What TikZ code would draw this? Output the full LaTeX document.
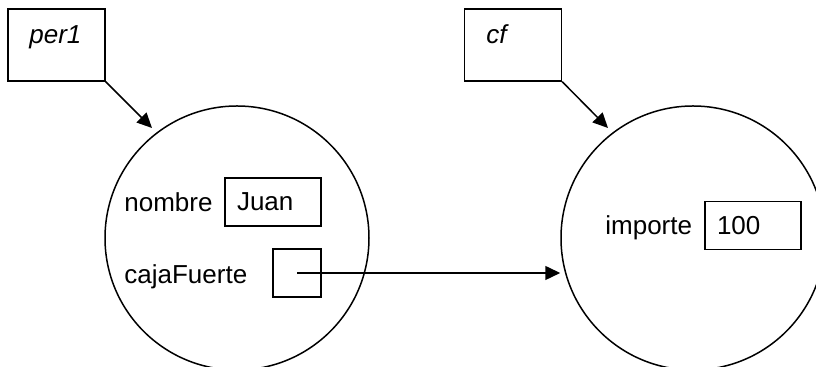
\documentclass[tikz,border=0pt]{standalone}
\usepackage{fontspec}
\setmainfont{Liberation Sans}
\usetikzlibrary{arrows.meta}
\begin{document}
\begin{tikzpicture}[x=0.5pt,y=-0.5pt,
  every node/.style={font=\fontsize{13}{15}\selectfont, inner sep=0pt},
  refbox/.style={draw, line width=0.75pt, minimum width=48.5pt, minimum height=36pt},
  objcircle/.style={draw, circle, line width=0.75pt, minimum size=132pt},
  valbox/.style={draw, line width=0.75pt, minimum width=48pt, minimum height=24pt, text width=36pt, inner xsep=6pt},
  ptrbox/.style={draw, line width=0.75pt, minimum width=24pt, minimum height=24pt},
  lbl/.style={anchor=base west},
  ptr/.style={line width=0.75pt, -{Triangle[length=7.5pt,width=7pt]}}]
\useasboundingbox (0,0) rectangle (816,367);
% reference boxes
\node[refbox] (per1) at (56.5,45) {};
\node[font=\fontsize{13}{15}\selectfont\itshape, anchor=base west] (per1t) at (29,44) {per1};
\node[refbox] (cf) at (513,45) {};
\node[font=\fontsize{13}{15}\selectfont\itshape, anchor=base west] (cft) at (486,44) {cf};
% objects
\node[objcircle] (obj1) at (237,238) {};
\node[objcircle] (obj2) at (693,238) {};
% fields of obj1
\node[lbl] (nombre) at (124,212) {nombre};
\node[valbox] (juan) at (273,202) {Juan};
\node[lbl] (caja) at (124,284) {cajaFuerte};
\node[ptrbox] (cbox) at (297,273) {};
% fields of obj2
\node[lbl] (importe) at (605,235) {importe};
\node[valbox] (imp) at (753,225.5) {100};
% connectors
\coordinate (a1) at (152,128);
\coordinate (a2) at (608,128);
\draw[ptr] (per1.south east) -- (a1);
\draw[ptr] (cf.south east) -- (a2);
\draw[ptr] (cbox.center) -- (cbox.center -| obj2.west);
\end{tikzpicture}
\end{document}
